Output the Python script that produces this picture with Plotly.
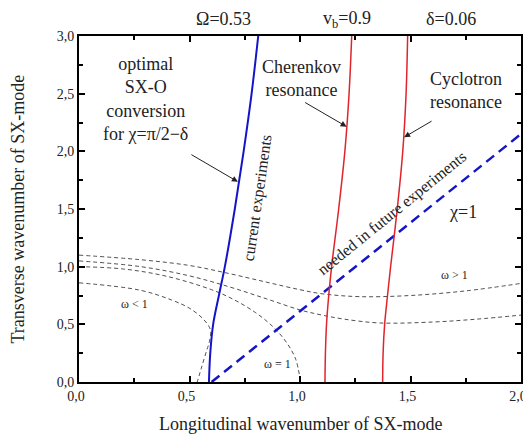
import plotly.graph_objects as go

# --- data ---
# Omega = 0.53 (optimal SX-O conversion), blue solid: x as function of y
omega_y = [0.0, 0.25, 0.5, 0.75, 1.0, 1.5, 2.0, 2.5, 3.0]
omega_x = [0.588, 0.594, 0.607, 0.633, 0.66, 0.705, 0.745, 0.781, 0.811]

# Cherenkov resonance (red)
cher_y = [0.0, 0.25, 0.5, 0.75, 1.0, 1.5, 2.0, 2.5, 3.0]
cher_x = [1.113, 1.115, 1.12, 1.13, 1.143, 1.175, 1.203, 1.222, 1.234]

# Cyclotron resonance (red)
cycl_y = [0.0, 0.25, 0.5, 0.75, 1.0, 1.5, 2.0, 2.5, 3.0]
cycl_x = [1.374, 1.376, 1.383, 1.396, 1.41, 1.44, 1.465, 1.48, 1.487]

# chi = 1 (blue dashed)
chi_x = [0.60, 2.0]
chi_y = [0.0, 2.15]

# omega > 1 curves (black dashed)
wa_x = [0.0, 0.28, 0.5, 0.68, 0.85, 1.0, 1.1, 1.27, 1.5, 1.75, 2.0]
wa_y = [1.10, 1.06, 1.01, 0.94, 0.865, 0.80, 0.765, 0.74, 0.75, 0.79, 0.855]
wb_x = [0.0, 0.28, 0.5, 0.68, 0.85, 1.0, 1.1, 1.2, 1.36, 1.6, 1.8, 2.0]
wb_y = [1.05, 1.00, 0.92, 0.825, 0.72, 0.625, 0.58, 0.545, 0.512, 0.52, 0.545, 0.58]
# omega = 1
w1_x = [0.0, 0.2, 0.4, 0.6, 0.7, 0.8, 0.88, 0.94, 0.98, 1.0]
w1_y = [1.0, 0.98, 0.915, 0.80, 0.715, 0.60, 0.475, 0.34, 0.2, 0.03]
# omega < 1
wl_x = [0.0, 0.276, 0.42, 0.502, 0.565, 0.595, 0.59, 0.578, 0.555, 0.535]
wl_y = [0.86, 0.796, 0.71, 0.637, 0.54, 0.45, 0.35, 0.275, 0.13, 0.0]

x_ticks = [0.0, 0.5, 1.0, 1.5, 2.0]
y_ticks = [0.0, 0.5, 1.0, 1.5, 2.0, 2.5, 3.0]

SERIF = "Liberation Serif"
BLUE = "#1414c8"
RED = "#e0242c"
GREY = "#505050"

W, H = 523, 426
ML, MR, MT, MB = 71, 10, 28, 52
PW, PH = W - ML - MR, H - MT - MB

fig = go.Figure()

for xs, ys in [(wa_x, wa_y), (wb_x, wb_y), (w1_x, w1_y), (wl_x, wl_y)]:
    fig.add_trace(go.Scatter(x=xs, y=ys, mode="lines", line_shape="spline",
                             line=dict(color=GREY, width=1, dash="4px,3px"),
                             showlegend=False, hoverinfo="skip"))

fig.add_trace(go.Scatter(x=chi_x, y=chi_y, mode="lines",
                         line=dict(color=BLUE, width=2.5, dash="10px,6px"),
                         showlegend=False))
fig.add_trace(go.Scatter(x=omega_x, y=omega_y, mode="lines", line_shape="spline",
                         line=dict(color=BLUE, width=2), showlegend=False))
fig.add_trace(go.Scatter(x=cher_x, y=cher_y, mode="lines", line_shape="spline",
                         line=dict(color=RED, width=1.5), showlegend=False))
fig.add_trace(go.Scatter(x=cycl_x, y=cycl_y, mode="lines", line_shape="spline",
                         line=dict(color=RED, width=1.5), showlegend=False))

axis_common = dict(
    showline=True, linecolor="black", linewidth=2, mirror="ticks",
    ticks="inside", ticklen=6, tickwidth=2, tickcolor="black",
    showgrid=False, zeroline=False, tickformat=".1f", automargin=False,
    tickfont=dict(family=SERIF, size=14, color="#222"),
    minor=dict(ticks="inside", ticklen=4, tickwidth=1.5, tickcolor="black", showgrid=False),
)

fig.update_xaxes(range=[0, 2], tickvals=x_ticks, minor_dtick=0.25, ticklabelshift=-3,
                 **axis_common)
fig.update_yaxes(range=[0, 3], tickvals=y_ticks, minor_dtick=0.25, **axis_common)

ann = []
def txt(x, y, s, size=16, angle=0, xref="x", yref="y", align="center"):
    ann.append(dict(x=x, y=y, xref=xref, yref=yref, text=s, showarrow=False,
                    textangle=angle, align=align, xanchor="center", yanchor="middle",
                    font=dict(family=SERIF, size=size, color="#222")))

# page pixel -> paper coordinates (page has an 8px body offset)
def pxx(px):
    return (px - 8 - ML) / PW
def pxy(py):
    return (MT + PH - (py - 8)) / PH

# axis titles
txt(pxx(300), pxy(424), "Longitudinal wavenumber of SX-mode", size=18, xref="paper", yref="paper")
txt(pxx(17.5), 0.5, "Transverse wavenumber of SX-mode", size=18, angle=-90, xref="paper", yref="paper")

# top labels
txt(pxx(223), pxy(19), "Ω=0.53", size=18, xref="paper", yref="paper")
txt(pxx(347), pxy(19), "v<sub>b</sub>=0.9", size=18, xref="paper", yref="paper")
txt(pxx(451), pxy(19), "δ=0.06", size=18, xref="paper", yref="paper")

txt(0.299, 2.45, "optimal<br>SX-O<br>conversion<br>for χ=π/2−δ", size=18)
txt(1.005, 2.63, "Cherenkov<br>resonance", size=18)
txt(1.751, 2.525, "Cyclotron<br>resonance", size=18)
txt(1.739, 1.476, "χ=1", size=18)
txt(0.811, 1.60, "current experiments", size=16, angle=-81.8)
txt(1.418, 1.465, "needed in future experiments", size=16, angle=-39)
txt(0.25, 0.68, "ω &lt; 1", size=12)
txt(0.896, 0.16, "ω = 1", size=12)
txt(1.70, 0.93, "ω &gt; 1", size=12)

# arrows
for tx, ty, axp, ayp in [(0.719, 1.736, -48, -28), (1.211, 2.214, -43, -25), (1.471, 2.122, 29, -17)]:
    ann.append(dict(x=tx, y=ty, xref="x", yref="y", text="", showarrow=True,
                    ax=axp, ay=ayp, arrowhead=2, arrowsize=1.2, arrowwidth=1,
                    arrowcolor="#222"))

fig.update_layout(
    template="none",
    width=W, height=H,
    margin=dict(l=ML, r=MR, t=MT, b=MB),
    plot_bgcolor="white", paper_bgcolor="white",
    font=dict(family=SERIF, color="#222"),
    separators=", ",
    annotations=ann,
    showlegend=False,
)

fig.write_html("out.html")
